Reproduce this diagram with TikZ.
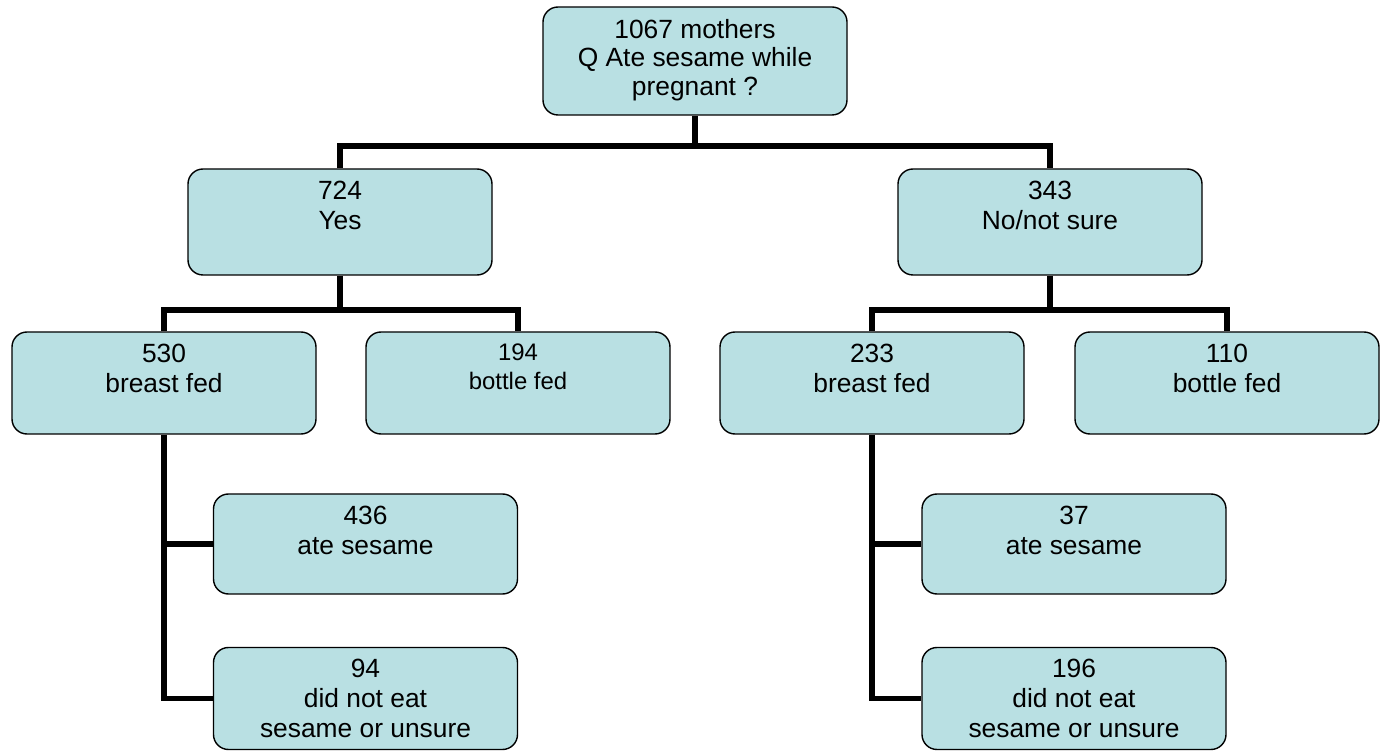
\documentclass[tikz,border=0pt]{standalone}
\usepackage{fontspec}
\setmainfont{Liberation Sans}
\definecolor{boxfill}{RGB}{185,224,227}
\begin{document}
\begin{tikzpicture}[
        box/.style={rectangle, rounded corners=0.3cm, draw, line width=0.8pt, fill=boxfill, minimum width=6.08cm, minimum height=2.04cm},
        txt/.style={anchor=north, yshift=-0.13cm, align=center, font=\fontsize{15}{17}\selectfont},
        link/.style={draw, line width=3.4pt}
    ]
        \useasboundingbox (0,0) rectangle (27.7,-15.02);

        \node[box, minimum width=6.08cm, minimum height=2.16cm, label={[txt, font=\fontsize{15}{16.4}\selectfont]north:1067 mothers\\Q Ate sesame while\\pregnant ?}] (top) at (13.9,-1.22) {};

        \node[box, minimum height=2.12cm, label={[txt]north:724\\Yes}] (yes) at (6.8,-4.44) {};
        \node[box, minimum height=2.12cm, label={[txt]north:343\\No/not sure}] (no) at (21.0,-4.44) {};

        \node[box, label={[txt]north:530\\breast fed}] (bf1) at (3.28,-7.66) {};
        \node[box, label={[txt, font=\fontsize{13.6}{16.4}\selectfont]north:194\\bottle fed}] (bo1) at (10.36,-7.66) {};
        \node[box, label={[txt]north:233\\breast fed}] (bf2) at (17.44,-7.66) {};
        \node[box, label={[txt]north:110\\bottle fed}] (bo2) at (24.54,-7.66) {};

        \node[box, minimum height=2.0cm, label={[txt]north:436\\ate sesame}] (ate1) at (7.31,-10.88) {};
        \node[box, label={[txt]north:94\\did not eat\\sesame or unsure}] (not1) at (7.31,-13.97) {};
        \node[box, minimum height=2.0cm, label={[txt]north:37\\ate sesame}] (ate2) at (21.48,-10.88) {};
        \node[box, label={[txt]north:196\\did not eat\\sesame or unsure}] (not2) at (21.48,-13.97) {};

        % tree lines
        \draw[link] (top.south) -- ++(0,-0.64);
        \draw[link] (yes.north) -- ++(0,0.44) -| (no.north);

        \draw[link] (yes.south) -- ++(0,-0.72);
        \draw[link] (bf1.north) -- ++(0,0.42) -| (bo1.north);
        \draw[link] (no.south) -- ++(0,-0.72);
        \draw[link] (bf2.north) -- ++(0,0.42) -| (bo2.north);

        \draw[link] (bf1.south) |- (not1.west);
        \draw[link] (bf1.south |- ate1.west) -- (ate1.west);
        \draw[link] (bf2.south) |- (not2.west);
        \draw[link] (bf2.south |- ate2.west) -- (ate2.west);
    \end{tikzpicture}
\end{document}
